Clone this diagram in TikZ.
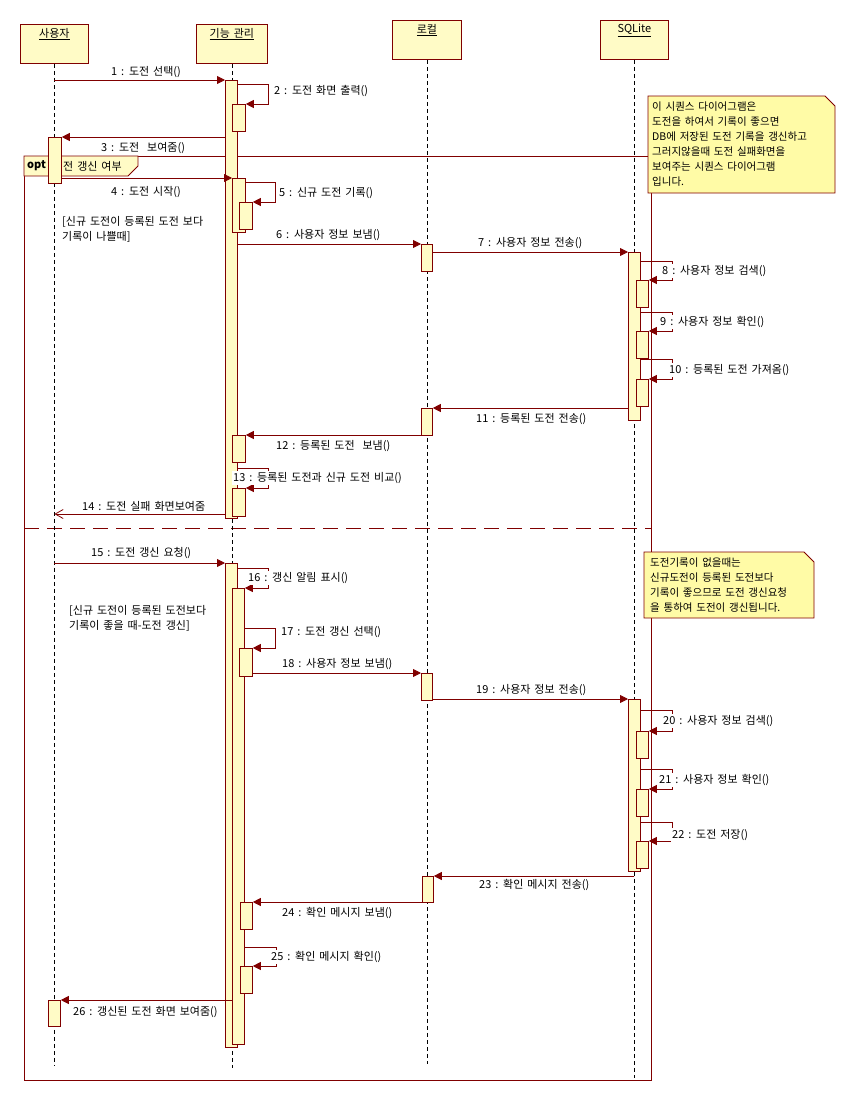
\documentclass[tikz,border=0pt]{standalone}
\usepackage{fontspec}
\setmainfont{Noto Sans CJK KR}[WordSpace=1.6]
\usetikzlibrary{arrows.meta,positioning,calc}
\definecolor{umlred}{HTML}{800000}
\definecolor{barfill}{HTML}{FFFBC6}
\definecolor{notefill}{HTML}{FFFBA6}
\tikzset{
  objbox/.style={draw=umlred,fill=barfill,line width=0.8pt,anchor=north west,minimum width=68,minimum height=39,inner sep=0},
  objlbl/.style={font=\fontsize{11}{12}\selectfont,inner sep=0},
  lifeln/.style={black,line width=0.6pt,dash pattern=on 4pt off 3pt},
  actbar/.style={draw=umlred,fill=barfill,line width=0.8pt,anchor=north west,minimum width=12,inner sep=0},
  msg/.style={umlred,line width=0.8pt,-{Triangle[length=8pt,width=8pt]}},
  retmsg/.style={umlred,line width=0.8pt,-{Straight Barb[length=8pt,width=9pt]}},
  lbl/.style={font=\fontsize{11}{12}\selectfont,anchor=west,fill=white,inner sep=1pt},
  guard/.style={font=\fontsize{11}{15}\selectfont,anchor=north west,align=left,inner sep=0},
  frm/.style={draw=umlred,line width=0.8pt,anchor=north west,minimum width=627,minimum height=924,inner sep=0},
  sepln/.style={umlred,line width=0.8pt,dash pattern=on 15pt off 8pt},
  notebox/.style={draw=umlred,fill=notefill,line width=0.8pt},
  notetxt/.style={font=\fontsize{10.5}{15}\selectfont,anchor=west,align=left,inner sep=0}
}

\begin{document}
\begin{tikzpicture}[x=1pt,y=-1pt]
  \useasboundingbox (0,0) rectangle (855,1100);

  % opt fragment
  \node[frm] (optFrm) at (24,156) {};
  \draw[umlred,line width=0.8pt,fill=barfill] (optFrm.north west) -- ++(114,0) -- ++(0,10) -- ++(-10,10) -- ++(-104,0) -- cycle;
  \node[font=\fontsize{11}{12}\selectfont\bfseries,anchor=west,inner sep=0] (optTag) at (27,166) {opt};
  \node[lbl,fill=none,inner sep=0] (optCond) at (63,166) {전 갱신 여부};
  \draw[sepln] (optFrm.west |- 0,528) -- (optFrm.east |- 0,528);
  \node[guard] (grd1) at (62,216) {[신규 도전이 등록된 도전 보다\\기록이 나쁠때]};
  \node[guard] (grd2) at (69,605) {[신규 도전이 등록된 도전보다\\기록이 좋을 때-도전 갱신]};

  % objects
  \node[objbox] (uBox) at (20,24) {};
  \node[objbox,minimum width=71] (fBox) at (196,24) {};
  \node[objbox,minimum width=69] (lBox) at (392,20) {};
  \node[objbox] (sBox) at (600,20) {};
  \node[objlbl,below=4pt of uBox.north] (uName) {\underline{사용자}};
  \node[objlbl,below=4pt of fBox.north] (fName) {\underline{기능 관리}};
  \node[objlbl,below=4pt of lBox.north] (lName) {\underline{로컬}};
  \node[objlbl,below=4pt of sBox.north] (sName) {\underline{SQLite}};

  % lifelines
  \draw[lifeln] (uBox.south) -- (uBox.south |- 0,1066);
  \draw[lifeln] (fBox.south) -- (fBox.south |- 0,1068);
  \draw[lifeln] (lBox.south) -- (lBox.south |- 0,1064);
  \draw[lifeln] (sBox.south) -- (sBox.south |- 0,1078);

  % activations
  \node[actbar,minimum width=13,minimum height=46] (uA) at (48,137) {};
  \node[actbar,minimum height=26] (uB) at (48,1000) {};
  \node[actbar,minimum height=438] (fA) at (225,80) {};
  \node[actbar,minimum width=13,minimum height=27] (fA2) at (232,104) {};
  \node[actbar,minimum width=13,minimum height=54] (fB) at (232,178) {};
  \node[actbar,minimum width=13,minimum height=27] (fB2) at (239,202) {};
  \node[actbar,minimum width=13,minimum height=27] (fC) at (232,435) {};
  \node[actbar,minimum width=13,minimum height=28] (fD) at (232,488) {};
  \node[actbar,minimum height=484] (fE) at (225,563) {};
  \node[actbar,minimum height=456] (fE2) at (232,588) {};
  \node[actbar,minimum width=13,minimum height=28] (fF) at (239,648) {};
  \node[actbar,minimum height=27] (fG) at (240,902) {};
  \node[actbar,minimum height=27] (fH) at (240,966) {};
  \node[actbar,minimum width=11,minimum height=27] (lA) at (421,244) {};
  \node[actbar,minimum width=11,minimum height=27] (lB) at (421,408) {};
  \node[actbar,minimum width=11,minimum height=27] (lC) at (421,673) {};
  \node[actbar,minimum width=11,minimum height=26] (lD) at (422,876) {};
  \node[actbar,minimum height=168] (sA) at (628,252) {};
  \node[actbar,minimum height=172] (sB) at (628,699) {};
  \foreach \n/\y in {sA1/280,sA2/331,sA3/379,sB1/731,sB2/789,sB3/841}
    \node[actbar,minimum height=27] (\n) at (636,\y) {};

  % messages
  \draw[msg] (uBox |- fA.north) -- (fA.north west);
  \draw[msg] (fA.east |- 0,84) -- ++(31,0) |- (fA2.north east);
  \draw[msg] (fA.west |- uA.north) -- (uA.north east);
  \draw[msg] (uA.east |- fB.north) -- (fB.north west);
  \draw[msg] (fB.east |- 0,182) -- ++(30,0) |- (fB2.north east);
  \draw[msg] (fA.east |- lA.north) -- (lA.north west);
  \draw[msg] (lA.east |- sA.north) -- (sA.north west);
  \foreach \y/\t in {261/sA1,312/sA2,359/sA3}
    \draw[msg] (sA.east |- 0,\y) -- ++(32,0) |- (\t.north east);
  \draw[msg] (sA.west |- lB.north) -- (lB.north east);
  \draw[msg] (lB.west |- fC.north) -- (fC.north east);
  \draw[msg] (fA.east |- 0,468) -- ++(31,0) |- (fD.north east);
  \draw[retmsg] (fA.west |- 0,514) -- (uBox |- 0,514);
  \draw[msg] (uBox |- fE.north) -- (fE.north west);
  \draw[msg] (fE.east |- 0,568) -- ++(31,0) |- (fE2.north east);
  \draw[msg] (fE2.east |- 0,628) -- ++(31,0) |- (fF.north east);
  \draw[msg] (fF.east |- lC.north) -- (lC.north west);
  \draw[msg] (lC.east |- sB.north) -- (sB.north west);
  \foreach \y/\t in {710/sB1,769/sB2,822/sB3}
    \draw[msg] (sB.east |- 0,\y) -- ++(32,0) |- (\t.north east);
  \draw[msg] (sBox |- lD.north) -- (lD.north east);
  \draw[msg] (lD.west |- fG.north) -- (fG.north east);
  \draw[msg] (fE2.east |- 0,947) -- ++(32,0) |- (fH.north east);
  \draw[msg] (fE2.west |- uB.north) -- (uB.north east);

  % message labels
  \node[lbl] (m1) at (110,72) {1 : 도전 선택()};
  \node[lbl] (m2) at (273,91) {2 : 도전 화면 출력()};
  \node[lbl] (m3) at (100,148) {3 : 도전 \ 보여줌()};
  \node[lbl] (m4) at (110,192) {4 : 도전 시작()};
  \node[lbl] (m5) at (278,193) {5 : 신규 도전 기록()};
  \node[lbl] (m6) at (275,235) {6 : 사용자 정보 보냄()};
  \node[lbl] (m7) at (477,243) {7 : 사용자 정보 전송()};
  \node[lbl] (m8) at (661,271) {8 : 사용자 정보 검색()};
  \node[lbl] (m9) at (659,322) {9 : 사용자 정보 확인()};
  \node[lbl] (m10) at (668,370) {10 : 등록된 도전 가져옴()};
  \node[lbl] (m11) at (475,419) {11 : 등록된 도전 전송()};
  \node[lbl] (m12) at (275,446) {12 : 등록된 도전 \ 보냄()};
  \node[lbl] (m13) at (232,478) {13 : 등록된 도전과 신규 도전 비교()};
  \node[lbl] (m14) at (81,506) {14 : 도전 실패 화면보여줌};
  \node[lbl] (m15) at (90,553) {15 : 도전 갱신 요청()};
  \node[lbl] (m16) at (247,578) {16 : 갱신 알림 표시()};
  \node[lbl] (m17) at (280,632) {17 : 도전 갱신 선택()};
  \node[lbl] (m18) at (281,664) {18 : 사용자 정보 보냄()};
  \node[lbl] (m19) at (475,690) {19 : 사용자 정보 전송()};
  \node[lbl] (m20) at (662,721) {20 : 사용자 정보 검색()};
  \node[lbl] (m21) at (658,780) {21 : 사용자 정보 확인()};
  \node[lbl] (m22) at (671,835) {22 : 도전 저장()};
  \node[lbl] (m23) at (478,885) {23 : 확인 메시지 전송()};
  \node[lbl] (m24) at (281,913) {24 : 확인 메시지 보냄()};
  \node[lbl] (m25) at (270,957) {25 : 확인 메시지 확인()};
  \node[lbl] (m26) at (72,1012) {26 : 갱신된 도전 화면 보여줌()};

  % notes
  \coordinate (n1) at (648,96);
  \draw[notebox] (n1) -- ++(177,0) -- ++(10,10) -- ++(0,87) -- ++(-187,0) -- cycle;
  \node[notetxt] (note1) at ($(n1)+(4,48.5)$) {이 시퀀스 다이어그램은\\도전을 하여서 기록이 좋으면\\DB에 저장된 도전 기록을 갱신하고\\그러지않을때 도전 실패화면을\\보여주는 시퀀스 다이어그램\\입니다.};
  \coordinate (n2) at (644,552);
  \draw[notebox] (n2) -- ++(160,0) -- ++(10,10) -- ++(0,56) -- ++(-170,0) -- cycle;
  \node[notetxt] (note2) at ($(n2)+(6,33)$) {도전기록이 없을때는\\신규도전이 등록된 도전보다\\기록이 좋으므로 도전 갱신요청\\을 통하여 도전이 갱신됩니다.};
\end{tikzpicture}
\end{document}
